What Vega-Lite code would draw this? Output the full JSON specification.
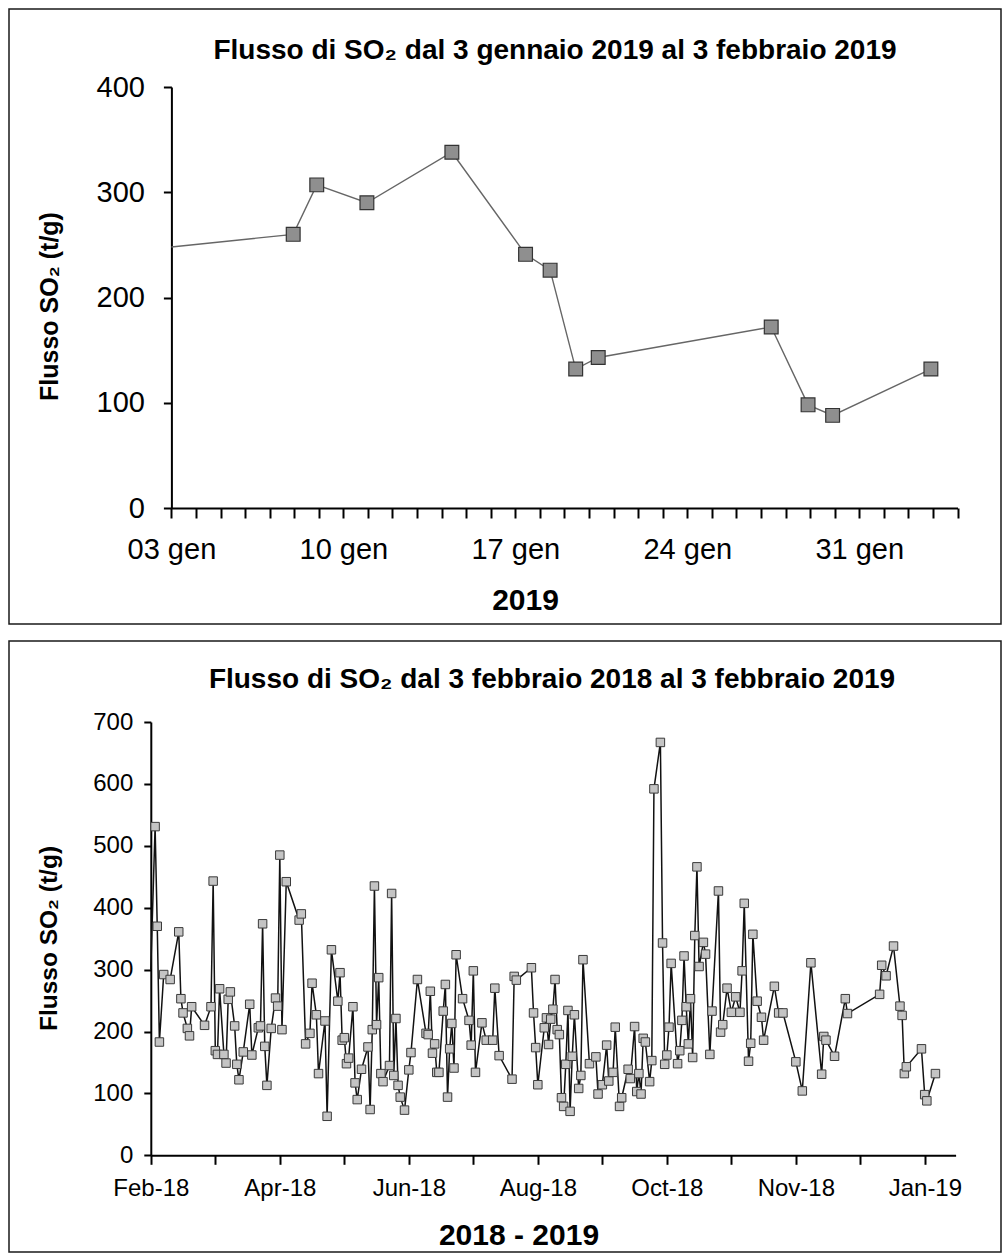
{
  "$schema": "https://vega.github.io/schema/vega-lite/v6.json",
  "padding": {"left": 8, "top": 8, "right": 0, "bottom": 0},
  "spacing": 15,
  "config": {
    "font": "Liberation Sans, Arial, Helvetica, sans-serif",
    "view": {"stroke": "#1a1a1a", "strokeWidth": 1.5},
    "axis": {"grid": false, "domainColor": "#000", "tickColor": "#000", "labelColor": "#000", "titleColor": "#000", "domainWidth": 2, "tickWidth": 2, "labelOverlap": false, "labelFlush": false},
    "title": {"color": "#000"}
  },
  "datasets": {
    "gennaio": [
      {"data": "2019/01/03 00:00", "flusso": 248, "bordo": true},
      {"data": "2019/01/07 23:00", "flusso": 260},
      {"data": "2019/01/08 22:00", "flusso": 307},
      {"data": "2019/01/10 23:00", "flusso": 290},
      {"data": "2019/01/14 10:00", "flusso": 338},
      {"data": "2019/01/17 10:00", "flusso": 241},
      {"data": "2019/01/18 10:00", "flusso": 226},
      {"data": "2019/01/19 11:00", "flusso": 132},
      {"data": "2019/01/20 09:00", "flusso": 143},
      {"data": "2019/01/27 10:00", "flusso": 172},
      {"data": "2019/01/28 22:00", "flusso": 98},
      {"data": "2019/01/29 22:00", "flusso": 88},
      {"data": "2019/02/02 22:00", "flusso": 132}
    ],
    "anno": [
      {"data": "2018/02/03 00:00", "flusso": 300, "bordo": true},
      {"data": "2018/02/05", "flusso": 531},
      {"data": "2018/02/06", "flusso": 370},
      {"data": "2018/02/07", "flusso": 183},
      {"data": "2018/02/09", "flusso": 292},
      {"data": "2018/02/12", "flusso": 284},
      {"data": "2018/02/16", "flusso": 361},
      {"data": "2018/02/17", "flusso": 253},
      {"data": "2018/02/18", "flusso": 230},
      {"data": "2018/02/20", "flusso": 205},
      {"data": "2018/02/21", "flusso": 193},
      {"data": "2018/02/22", "flusso": 240},
      {"data": "2018/02/28", "flusso": 210},
      {"data": "2018/03/03", "flusso": 240},
      {"data": "2018/03/04", "flusso": 443},
      {"data": "2018/03/05", "flusso": 169},
      {"data": "2018/03/06", "flusso": 163},
      {"data": "2018/03/07", "flusso": 269},
      {"data": "2018/03/09", "flusso": 163},
      {"data": "2018/03/10", "flusso": 149},
      {"data": "2018/03/11", "flusso": 252},
      {"data": "2018/03/12", "flusso": 264},
      {"data": "2018/03/14", "flusso": 209},
      {"data": "2018/03/15", "flusso": 147},
      {"data": "2018/03/16", "flusso": 122},
      {"data": "2018/03/18", "flusso": 167},
      {"data": "2018/03/21", "flusso": 244},
      {"data": "2018/03/22", "flusso": 162},
      {"data": "2018/03/25", "flusso": 206},
      {"data": "2018/03/26", "flusso": 209},
      {"data": "2018/03/27", "flusso": 374},
      {"data": "2018/03/28", "flusso": 176},
      {"data": "2018/03/29", "flusso": 113},
      {"data": "2018/03/31", "flusso": 205},
      {"data": "2018/04/02", "flusso": 254},
      {"data": "2018/04/03", "flusso": 241},
      {"data": "2018/04/04", "flusso": 485},
      {"data": "2018/04/05", "flusso": 203},
      {"data": "2018/04/07", "flusso": 442},
      {"data": "2018/04/13", "flusso": 380},
      {"data": "2018/04/14", "flusso": 390},
      {"data": "2018/04/16", "flusso": 180},
      {"data": "2018/04/18", "flusso": 197},
      {"data": "2018/04/19", "flusso": 278},
      {"data": "2018/04/21", "flusso": 227},
      {"data": "2018/04/22", "flusso": 132},
      {"data": "2018/04/25", "flusso": 217},
      {"data": "2018/04/26", "flusso": 63},
      {"data": "2018/04/28", "flusso": 332},
      {"data": "2018/05/01", "flusso": 249},
      {"data": "2018/05/02", "flusso": 295},
      {"data": "2018/05/03", "flusso": 186},
      {"data": "2018/05/04", "flusso": 190},
      {"data": "2018/05/05", "flusso": 148},
      {"data": "2018/05/06", "flusso": 157},
      {"data": "2018/05/08", "flusso": 240},
      {"data": "2018/05/09", "flusso": 117},
      {"data": "2018/05/10", "flusso": 90},
      {"data": "2018/05/12", "flusso": 139},
      {"data": "2018/05/15", "flusso": 175},
      {"data": "2018/05/16", "flusso": 74},
      {"data": "2018/05/17", "flusso": 203},
      {"data": "2018/05/18", "flusso": 435},
      {"data": "2018/05/19", "flusso": 211},
      {"data": "2018/05/20", "flusso": 287},
      {"data": "2018/05/21", "flusso": 132},
      {"data": "2018/05/22", "flusso": 119},
      {"data": "2018/05/25", "flusso": 145},
      {"data": "2018/05/26", "flusso": 423},
      {"data": "2018/05/27", "flusso": 129},
      {"data": "2018/05/28", "flusso": 221},
      {"data": "2018/05/29", "flusso": 113},
      {"data": "2018/05/30", "flusso": 94},
      {"data": "2018/06/01", "flusso": 73},
      {"data": "2018/06/03", "flusso": 138},
      {"data": "2018/06/04", "flusso": 166},
      {"data": "2018/06/07", "flusso": 284},
      {"data": "2018/06/11", "flusso": 197},
      {"data": "2018/06/12", "flusso": 195},
      {"data": "2018/06/13", "flusso": 265},
      {"data": "2018/06/14", "flusso": 165},
      {"data": "2018/06/15", "flusso": 180},
      {"data": "2018/06/16", "flusso": 134},
      {"data": "2018/06/17", "flusso": 134},
      {"data": "2018/06/19", "flusso": 233},
      {"data": "2018/06/20", "flusso": 276},
      {"data": "2018/06/21", "flusso": 94},
      {"data": "2018/06/22", "flusso": 172},
      {"data": "2018/06/23", "flusso": 213},
      {"data": "2018/06/24", "flusso": 141},
      {"data": "2018/06/25", "flusso": 324},
      {"data": "2018/06/28", "flusso": 253},
      {"data": "2018/07/01", "flusso": 218},
      {"data": "2018/07/02", "flusso": 178},
      {"data": "2018/07/03", "flusso": 298},
      {"data": "2018/07/04", "flusso": 134},
      {"data": "2018/07/07", "flusso": 214},
      {"data": "2018/07/09", "flusso": 186},
      {"data": "2018/07/12", "flusso": 186},
      {"data": "2018/07/13", "flusso": 270},
      {"data": "2018/07/15", "flusso": 161},
      {"data": "2018/07/21", "flusso": 123},
      {"data": "2018/07/22", "flusso": 289},
      {"data": "2018/07/23", "flusso": 283},
      {"data": "2018/07/30", "flusso": 303},
      {"data": "2018/07/31", "flusso": 230},
      {"data": "2018/08/01", "flusso": 174},
      {"data": "2018/08/02", "flusso": 114},
      {"data": "2018/08/05", "flusso": 206},
      {"data": "2018/08/06", "flusso": 222},
      {"data": "2018/08/07", "flusso": 179},
      {"data": "2018/08/08", "flusso": 220},
      {"data": "2018/08/09", "flusso": 236},
      {"data": "2018/08/10", "flusso": 284},
      {"data": "2018/08/11", "flusso": 203},
      {"data": "2018/08/12", "flusso": 195},
      {"data": "2018/08/13", "flusso": 93},
      {"data": "2018/08/14", "flusso": 79},
      {"data": "2018/08/15", "flusso": 147},
      {"data": "2018/08/16", "flusso": 234},
      {"data": "2018/08/17", "flusso": 71},
      {"data": "2018/08/18", "flusso": 160},
      {"data": "2018/08/19", "flusso": 227},
      {"data": "2018/08/21", "flusso": 108},
      {"data": "2018/08/22", "flusso": 129},
      {"data": "2018/08/23", "flusso": 316},
      {"data": "2018/08/26", "flusso": 148},
      {"data": "2018/08/29", "flusso": 159},
      {"data": "2018/08/30", "flusso": 99},
      {"data": "2018/09/01", "flusso": 114},
      {"data": "2018/09/03", "flusso": 178},
      {"data": "2018/09/04", "flusso": 120},
      {"data": "2018/09/06", "flusso": 134},
      {"data": "2018/09/07", "flusso": 207},
      {"data": "2018/09/09", "flusso": 79},
      {"data": "2018/09/10", "flusso": 93},
      {"data": "2018/09/13", "flusso": 139},
      {"data": "2018/09/14", "flusso": 124},
      {"data": "2018/09/16", "flusso": 208},
      {"data": "2018/09/17", "flusso": 103},
      {"data": "2018/09/18", "flusso": 132},
      {"data": "2018/09/19", "flusso": 99},
      {"data": "2018/09/20", "flusso": 189},
      {"data": "2018/09/21", "flusso": 183},
      {"data": "2018/09/23", "flusso": 119},
      {"data": "2018/09/24", "flusso": 153},
      {"data": "2018/09/25", "flusso": 592},
      {"data": "2018/09/28", "flusso": 667},
      {"data": "2018/09/29", "flusso": 343},
      {"data": "2018/09/30", "flusso": 147},
      {"data": "2018/10/01", "flusso": 162},
      {"data": "2018/10/02", "flusso": 207},
      {"data": "2018/10/03", "flusso": 310},
      {"data": "2018/10/06", "flusso": 148},
      {"data": "2018/10/07", "flusso": 169},
      {"data": "2018/10/08", "flusso": 218},
      {"data": "2018/10/09", "flusso": 322},
      {"data": "2018/10/10", "flusso": 240},
      {"data": "2018/10/11", "flusso": 180},
      {"data": "2018/10/12", "flusso": 253},
      {"data": "2018/10/13", "flusso": 158},
      {"data": "2018/10/14", "flusso": 355},
      {"data": "2018/10/15", "flusso": 466},
      {"data": "2018/10/16", "flusso": 305},
      {"data": "2018/10/18", "flusso": 344},
      {"data": "2018/10/19", "flusso": 325},
      {"data": "2018/10/21", "flusso": 163},
      {"data": "2018/10/22", "flusso": 233},
      {"data": "2018/10/25", "flusso": 427},
      {"data": "2018/10/26", "flusso": 199},
      {"data": "2018/10/27", "flusso": 211},
      {"data": "2018/10/29", "flusso": 270},
      {"data": "2018/10/31", "flusso": 231},
      {"data": "2018/11/02", "flusso": 256},
      {"data": "2018/11/04", "flusso": 231},
      {"data": "2018/11/05", "flusso": 298},
      {"data": "2018/11/06", "flusso": 407},
      {"data": "2018/11/08", "flusso": 152},
      {"data": "2018/11/09", "flusso": 181},
      {"data": "2018/11/10", "flusso": 357},
      {"data": "2018/11/12", "flusso": 249},
      {"data": "2018/11/14", "flusso": 223},
      {"data": "2018/11/15", "flusso": 186},
      {"data": "2018/11/20", "flusso": 273},
      {"data": "2018/11/22", "flusso": 230},
      {"data": "2018/11/24", "flusso": 230},
      {"data": "2018/11/30", "flusso": 151},
      {"data": "2018/12/03", "flusso": 104},
      {"data": "2018/12/07", "flusso": 311},
      {"data": "2018/12/12", "flusso": 131},
      {"data": "2018/12/13", "flusso": 192},
      {"data": "2018/12/14", "flusso": 186},
      {"data": "2018/12/18", "flusso": 160},
      {"data": "2018/12/23", "flusso": 253},
      {"data": "2018/12/24", "flusso": 229},
      {"data": "2019/01/07 23:00", "flusso": 260},
      {"data": "2019/01/08 22:00", "flusso": 307},
      {"data": "2019/01/10 23:00", "flusso": 290},
      {"data": "2019/01/14 10:00", "flusso": 338},
      {"data": "2019/01/17 10:00", "flusso": 241},
      {"data": "2019/01/18 10:00", "flusso": 226},
      {"data": "2019/01/19 11:00", "flusso": 132},
      {"data": "2019/01/20 09:00", "flusso": 143},
      {"data": "2019/01/27 10:00", "flusso": 172},
      {"data": "2019/01/28 22:00", "flusso": 98},
      {"data": "2019/01/29 22:00", "flusso": 88},
      {"data": "2019/02/02 22:00", "flusso": 132}
    ]
  },
  "vconcat": [
    {
      "width": 992,
      "height": 615,
      "data": {"name": "gennaio"},
      "title": {"text": "Flusso di SO₂ dal 3 gennaio 2019 al 3 febbraio 2019", "fontSize": 28, "fontWeight": "bold", "frame": "group", "anchor": "middle", "baseline": "alphabetic", "offset": -78, "dx": 50},
      "layer": [
        {
          "mark": {"type": "line", "color": "#666666", "strokeWidth": 1.4},
          "encoding": {
            "x": {
              "field": "data", "type": "temporal",
              "scale": {"domain": [{"year": 2019, "month": 1, "date": 3}, {"year": 2019, "month": 2, "date": 4}], "range": [162.4, 948.5], "nice": false},
              "axis": {
                "title": "2019",
                "tickCount": {"interval": "day", "step": 1},
                "labelExpr": "month(datum.value) == 0 && indexof([3, 10, 17, 24, 31], date(datum.value)) >= 0 ? timeFormat(datum.value, '%d') + ' gen' : ''",
                "offset": -116, "tickSize": 10, "labelFontSize": 29, "labelPadding": 17,
                "titleFontSize": 30, "titleFontWeight": "bold", "titleX": 516, "titleY": 101, "titleBaseline": "alphabetic", "titleAlign": "center"
              }
            },
            "y": {
              "field": "flusso", "type": "quantitative",
              "scale": {"domain": [0, 400], "range": [499, 78], "nice": false},
              "axis": {
                "title": "Flusso SO₂ (t/g)",
                "values": [0, 100, 200, 300, 400],
                "offset": -162.4, "tickSize": 8, "labelFontSize": 29, "labelPadding": 19,
                "titleFontSize": 25, "titleFontWeight": "bold", "titleX": -114, "titleY": 297, "titleBaseline": "alphabetic", "titleAngle": -90, "titleAlign": "center"
              }
            }
          }
        },
        {
          "transform": [{"filter": "datum.bordo !== true"}],
          "mark": {"type": "point", "shape": "square", "filled": true, "color": "#8f8f8f", "stroke": "#333333", "strokeWidth": 1.2, "size": 190, "opacity": 1},
          "encoding": {
            "x": {"field": "data", "type": "temporal"},
            "y": {"field": "flusso", "type": "quantitative"}
          }
        }
      ]
    },
    {
      "width": 992,
      "height": 611,
      "data": {"name": "anno"},
      "title": {"text": "Flusso di SO₂ dal 3 febbraio 2018 al 3 febbraio 2019", "fontSize": 28, "fontWeight": "bold", "frame": "group", "anchor": "middle", "baseline": "alphabetic", "offset": -75, "dx": 47},
      "layer": [
        {
          "mark": {"type": "line", "color": "#111111", "strokeWidth": 1.5},
          "encoding": {
            "x": {
              "field": "data", "type": "temporal",
              "scale": {"domain": [{"year": 2018, "month": 2, "date": 3}, {"year": 2019, "month": 2, "date": 12, "hours": 7}], "range": [141.8, 946.6], "nice": false},
              "axis": {
                "title": "2018 - 2019",
                "values": [
                  {"year": 2018, "month": 2, "date": 3}, {"year": 2018, "month": 3, "date": 5},
                  {"year": 2018, "month": 4, "date": 4}, {"year": 2018, "month": 5, "date": 4},
                  {"year": 2018, "month": 6, "date": 3}, {"year": 2018, "month": 7, "date": 3},
                  {"year": 2018, "month": 8, "date": 2}, {"year": 2018, "month": 9, "date": 1},
                  {"year": 2018, "month": 10, "date": 1}, {"year": 2018, "month": 10, "date": 31},
                  {"year": 2018, "month": 11, "date": 30}, {"year": 2018, "month": 12, "date": 30},
                  {"year": 2019, "month": 1, "date": 29}
                ],
                "labelExpr": "indexof(['2018-02-03', '2018-04-04', '2018-06-03', '2018-08-02', '2018-10-01', '2018-11-30', '2019-01-29'], timeFormat(datum.value, '%Y-%m-%d')) >= 0 ? timeFormat(datum.value, '%b-%y') : ''",
                "offset": -96.7, "tickSize": 9, "labelFontSize": 24, "labelPadding": 12,
                "titleFontSize": 30, "titleFontWeight": "bold", "titleX": 509.5, "titleY": 89, "titleBaseline": "alphabetic", "titleAlign": "center"
              }
            },
            "y": {
              "field": "flusso", "type": "quantitative",
              "scale": {"domain": [0, 700], "range": [514.3, 81], "nice": false},
              "axis": {
                "title": "Flusso SO₂ (t/g)",
                "values": [0, 100, 200, 300, 400, 500, 600, 700],
                "offset": -141.8, "tickSize": 7, "labelFontSize": 24, "labelPadding": 11,
                "titleFontSize": 24.5, "titleFontWeight": "bold", "titleX": -94, "titleY": 297, "titleBaseline": "alphabetic", "titleAngle": -90, "titleAlign": "center"
              }
            }
          }
        },
        {
          "transform": [{"filter": "datum.bordo !== true"}],
          "mark": {"type": "point", "shape": "square", "filled": true, "color": "#c4c4c4", "stroke": "#3a3a3a", "strokeWidth": 1, "size": 72, "opacity": 1},
          "encoding": {
            "x": {"field": "data", "type": "temporal"},
            "y": {"field": "flusso", "type": "quantitative"}
          }
        }
      ]
    }
  ]
}
